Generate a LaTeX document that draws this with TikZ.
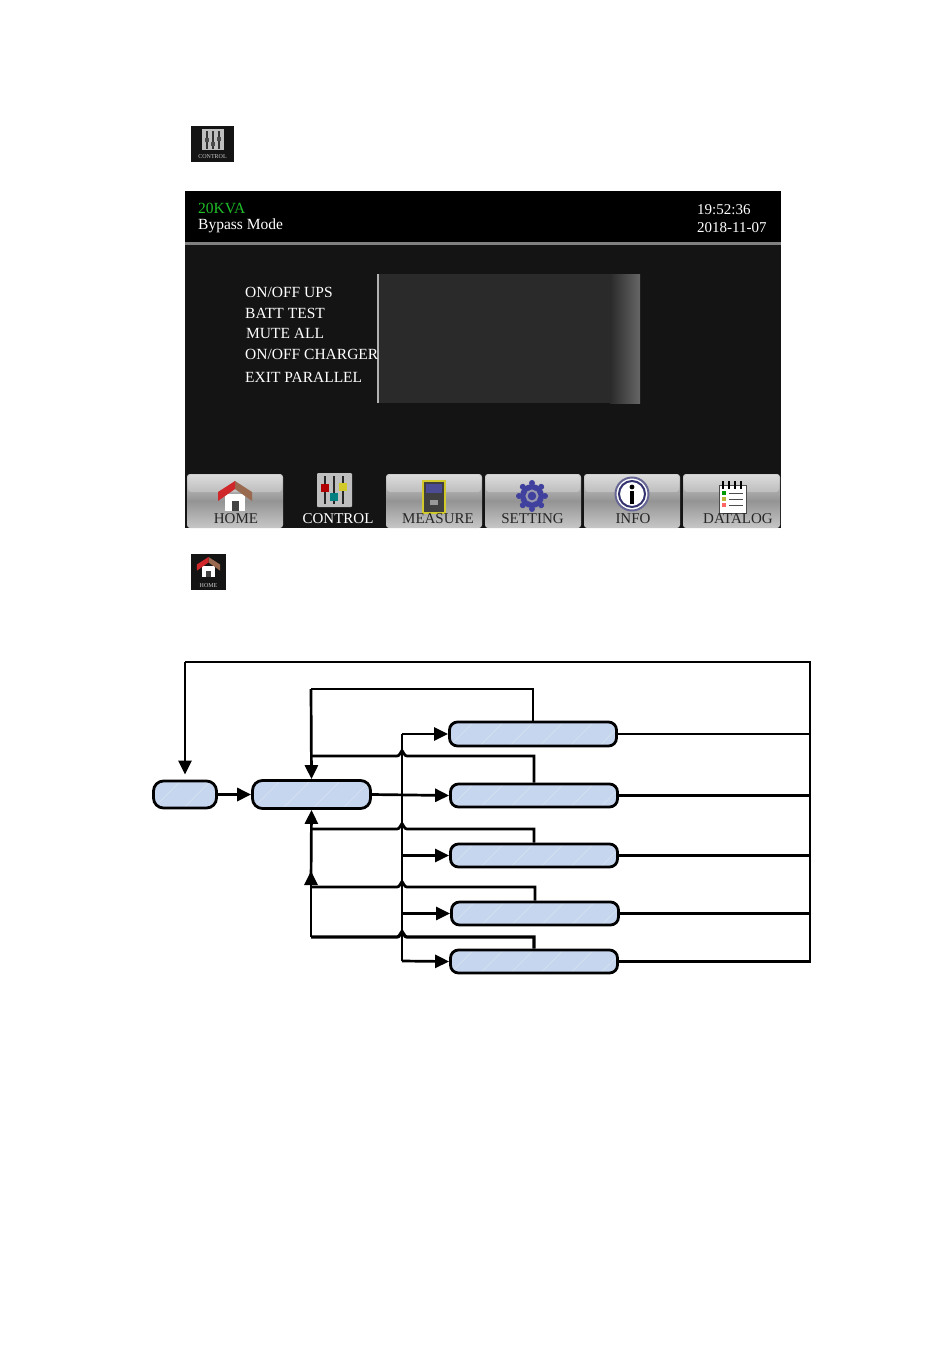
\documentclass[tikz,border=0pt]{standalone}
\usepackage{fontspec}
\setmainfont{Liberation Serif}
\usetikzlibrary{arrows.meta,calc}
\definecolor{flow}{HTML}{C6D6EE}
\definecolor{flowhatch}{HTML}{D6E1F2}
\definecolor{screenbg}{HTML}{141414}
\definecolor{panelbg}{HTML}{2A2A2A}
\definecolor{roofred}{HTML}{D0282A}
\definecolor{roofbrown}{HTML}{9A6A50}
\tikzset{
  flowbox/.style={draw=black,line width=2.8pt,fill=flow,inner sep=0pt,rounded corners=#1,
    path picture={
      \foreach \k in {-60,-30,...,210}
        \draw[flowhatch,line width=.7pt] ([xshift=\k pt]path picture bounding box.south west) -- ++(45pt,45pt);
    }},
  wire/.style={draw=black,line width=2.7pt,line join=miter},
  arrowwire/.style={wire,-{Triangle[length=14pt,width=13pt]}},
  scrtext/.style={text=white,anchor=west,inner sep=0pt,font=\fontsize{15.5}{17}\selectfont},
  btnlabel/.style={text=black!85,inner sep=0pt,font=\fontsize{15}{17}\selectfont},
  btn/.style={rounded corners=3pt,top color=black!18,bottom color=black!22,middle color=black!42},
}
\newcommand{\myhouse}[3]{% centre x, top y, scale
  \begin{scope}[shift={(#1,#2)},scale=#3]
    \fill[white] (-10,13) rectangle (10,30);
    \fill[screenbg!80] (-3.5,20) rectangle (3.5,30);
    \fill[roofbrown] (0,0) -- (17,11) -- (17,20) -- (0,8) -- cycle;
    \fill[roofred] (0,0) -- (-17,11) -- (-17,20) -- (0,8) -- cycle;
  \end{scope}}
\begin{document}
\begin{tikzpicture}[x=1pt,y=-1pt]
\useasboundingbox (0,0) rectangle (950,1369);
\fill[white] (0,0) rectangle (950,1369);

% small control icon
\fill[screenbg] (191,126) rectangle (234,162);
\fill[black!25] (202,129) rectangle (224,150);
\foreach \xx/\yy in {207/140,213/144,219/139}{
  \draw[black!80,line width=1.5pt] (\xx,131) -- (\xx,149);
  \fill[black!70] (\xx-2,\yy-2) rectangle (\xx+2,\yy+2);
}
\node[inner sep=0pt,text=black!20,font=\fontsize{6}{7}\selectfont] (iconctl) at (212.5,157) {CONTROL};

% screen
\fill[screenbg] (185,191) rectangle (781,528);
\fill[black] (185,191) rectangle (781,242);
\fill[black!50] (185,242) rectangle (781,245);
\node[scrtext,text={rgb,255:red,30;green,190;blue,40}] (kva) at (198,208) {20KVA};
\node[scrtext] (mode) at (198,226) {Bypass Mode};
\node[scrtext,font=\fontsize{15}{16}\selectfont] (time) at (697,210) {19:52:36};
\node[scrtext,font=\fontsize{15}{16}\selectfont] (date) at (697,228) {2018-11-07};

\fill[panelbg] (378,274) rectangle (610,403);
\shade[left color=panelbg,right color=black!60] (610,274) rectangle (640,403);
\draw[black!30,line width=1.2pt] (378,274) -- (378,403);
\node[scrtext] (m1) at (245,292) {ON/OFF UPS};
\node[scrtext] (m2) at (245,313) {BATT TEST};
\node[scrtext] (m3) at (246,333) {MUTE ALL};
\node[scrtext] (m4) at (245,354) {ON/OFF CHARGER};
\node[scrtext] (m5) at (245,377) {EXIT PARALLEL};

% buttons
\foreach \xa/\xb in {187/283,386/482,485/581,584/680,683/780}{
  \shade[btn] (\xa,474) rectangle (\xb,528);
  \fill[white,opacity=.25,rounded corners=3pt] (\xa+1,475) rectangle (\xb-1,492);
}
\myhouse{235}{481}{1}
% sliders
\fill[black!25,rounded corners=1pt] (317,473) rectangle (352,507);
\foreach \xx/\yy/\cc in {325/488/red!70!black,334/497/teal,343/487/yellow!80!black}{
  \draw[black!85,line width=2.2pt] (\xx,476) -- (\xx,504);
  \fill[\cc] (\xx-4,\yy-4) rectangle (\xx+4,\yy+4);
}
% measure
\draw[yellow!80!black,line width=2pt,fill=black!75] (423,481) rectangle (445,513);
\fill[blue!40!black!70] (426,484) rectangle (442,493);
\fill[black!40] (430,500) rectangle (438,505);
% gear
\fill[blue!50!black!75] (532,496) circle (12);
\foreach \a in {0,45,...,315}
  \fill[blue!50!black!75] ($(532,496)+(\a:13)$) circle (3);
\draw[blue!20!black!40,line width=2pt] (532,496) circle (5.5);
% info
\draw[blue!30!black!60,line width=2pt,fill=white] (632,494) circle (16.5);
\draw[blue!30!black!80,line width=2pt] (632,494) circle (13);
\fill[black] (632,487) circle (2.4);
\fill[black] (630,491) rectangle (634,504);
% datalog
\draw[black!70,line width=1pt,fill=white] (719,485) rectangle (746,513);
\foreach \xx in {723,729,735,741} \draw[black,line width=2pt] (\xx,481) -- (\xx,489);
\foreach \yy/\cc in {493/green!60!black,499/yellow!70!black,505/red!60}{
  \fill[\cc] (722,\yy-2) rectangle (726,\yy+2);
  \draw[black!70,line width=1pt] (729,\yy) -- (743,\yy);
}
\node[btnlabel] (b1) at (236,519) {HOME};
\node[btnlabel,text=white] (b2) at (338,519) {CONTROL};
\node[btnlabel] (b3) at (438,519) {MEASURE};
\node[btnlabel] (b4) at (532.5,519) {SETTING};
\node[btnlabel] (b5) at (633,519) {INFO};
\node[btnlabel] (b6) at (738,519) {DATALOG};

% small home icon
\fill[screenbg] (191,554) rectangle (226,590);
\myhouse{208.5}{557}{.68}
\node[inner sep=0pt,text=black!20,font=\fontsize{6}{7}\selectfont] (iconhome) at (208.5,585.5) {HOME};

% flow chart
\node[flowbox=10pt,minimum width=63pt,minimum height=27pt] (a) at (185,794.5) {};
\node[flowbox=10pt,minimum width=118pt,minimum height=28pt] (b) at (311.5,794.5) {};
\node[flowbox=8pt,minimum width=167pt,minimum height=24pt] (c1) at (533,734) {};
\node[flowbox=8pt,minimum width=167pt,minimum height=23pt] (c2) at (534,795.5) {};
\node[flowbox=8pt,minimum width=167pt,minimum height=23pt] (c3) at (534,855.5) {};
\node[flowbox=8pt,minimum width=167pt,minimum height=23pt] (c4) at (535,913.5) {};
\node[flowbox=8pt,minimum width=167pt,minimum height=23pt] (c5) at (534,961.5) {};

\coordinate (outer) at (810,662);
\coordinate (ret1) at (311,689);
\coordinate (busTop) at (402,734);
\coordinate (busBot) at (402,961);
\coordinate (j4) at (311,887);
\coordinate (j5) at (311,937);

% right collector
\draw[wire] (c1.east) -- (c1.east -| outer);
\draw[wire] (c2.east) -- (c2.east -| outer);
\draw[wire] (c3.east) -- (c3.east -| outer);
\draw[wire] (c4.east) -- (c4.east -| outer);
\draw[wire] (c5.east) -- (c5.east -| outer) -- (outer) -- (a.north |- outer) coordinate (topleft);
\draw[arrowwire] (topleft) -- ([yshift=5pt]a.north);

% returns
\draw[wire] (c1.north) |- (ret1);
\draw[arrowwire] (ret1) -- (b.north);
\foreach \n/\yy/\lw in {c2/756/2.7pt,c3/829/2.7pt,c4/887/2.7pt,c5/937/3.2pt}{
  \draw[wire,line width=\lw] (\n.north) -- (\n.north |- 406,\yy) -- (407,\yy)
    .. controls (404,\yy) and (404,\yy-4) .. (402,\yy-5.5)
    .. controls (400,\yy-4) and (400,\yy) .. (397,\yy) -- (311,\yy);
}
\draw[arrowwire] (j5) -- (311,871);
\draw[arrowwire] (311,884) -- (b.south);

% bus
\draw[wire] (busTop) -- (busBot);
\draw[arrowwire] (busTop) -- (c1.west);
\draw[arrowwire] (b.east) -- (c2.west);
\draw[arrowwire] (402,855.5) -- (c3.west);
\draw[arrowwire] (402,913.5) -- (c4.west);
\draw[arrowwire] (busBot) -- (c5.west);
\draw[arrowwire,line width=3.2pt] (a.east) -- (b.west);
\end{tikzpicture}
\end{document}
